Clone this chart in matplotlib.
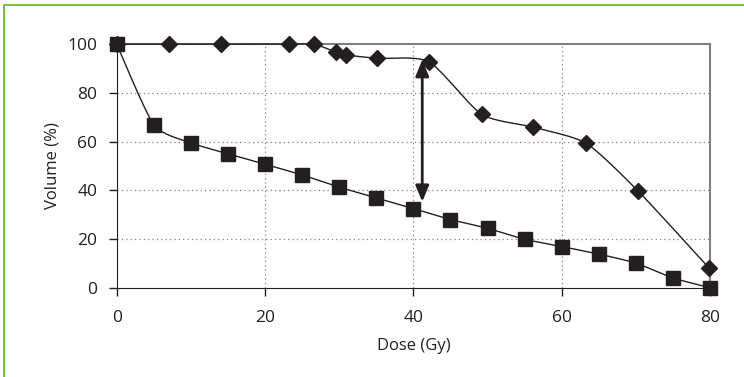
import numpy as np
import matplotlib
matplotlib.use("Agg")
import matplotlib.pyplot as plt
from matplotlib.lines import Line2D

plt.rcParams['font.family'] = ['Open Sans', 'DejaVu Sans']

# Data
square_dose = [0, 5, 10, 15, 20, 25, 30, 35, 40, 45, 50, 55, 60, 65, 70, 75, 80]
square_vol = [100, 67, 59.5, 55, 50.7, 46.3, 41.3, 36.9, 32.5, 28, 24.4, 19.9, 16.9, 13.8, 10.1, 4, 0]
diamond_dose = [0, 7, 14.1, 23.2, 26.6, 29.6, 30.9, 35.1, 42.1, 49.2, 56.2, 63.3, 70.3, 79.9]
diamond_vol = [100, 100, 100, 100, 100, 96.7, 95.6, 94.2, 92.8, 71.2, 65.9, 59.3, 39.7, 8]
arrow_dose = 41.2
arrow_low = 35.3
arrow_high = 93.5
xticks = [0, 20, 40, 60, 80]
yticks = [0, 20, 40, 60, 80, 100]


def smooth(x, y, n=20, t=0.5):
    """Catmull-Rom style smoothing (as in spreadsheet 'smoothed line')."""
    x = np.asarray(x, float); y = np.asarray(y, float)
    px = np.concatenate([[x[0]], x, [x[-1]]])
    py = np.concatenate([[y[0]], y, [y[-1]]])
    xs, ys = [], []
    for i in range(1, len(px) - 2):
        p0 = np.array([px[i - 1], py[i - 1]]); p1 = np.array([px[i], py[i]])
        p2 = np.array([px[i + 1], py[i + 1]]); p3 = np.array([px[i + 2], py[i + 2]])
        m1 = (p2 - p0) * t / 1.5
        m2 = (p3 - p1) * t / 1.5
        s = np.linspace(0, 1, n)
        h00 = 2 * s**3 - 3 * s**2 + 1
        h10 = s**3 - 2 * s**2 + s
        h01 = -2 * s**3 + 3 * s**2
        h11 = s**3 - s**2
        pts = np.outer(h00, p1) + np.outer(h10, m1) + np.outer(h01, p2) + np.outer(h11, m2)
        xs.extend(pts[:, 0]); ys.extend(pts[:, 1])
    return np.array(xs), np.array(ys)


fig = plt.figure(figsize=(7.44, 3.77), dpi=100)
ax = fig.add_axes([116.7 / 744, 1 - 287.7 / 377, (710 - 116.7) / 744, (287.7 - 44.2) / 377])

ax.set_xlim(0, 80)
ax.set_ylim(0, 100)

for xv in xticks[1:-1]:
    ax.axvline(xv, color='#808080', lw=0.9, ls=(0, (1, 2.5)), zorder=1)
for yv in yticks[1:-1]:
    ax.axhline(yv, color='#808080', lw=0.9, ls=(0, (1, 2.5)), zorder=1)

sx, sy = smooth(diamond_dose, diamond_vol)
ax.plot(sx, sy, color='#231f20', lw=1.0, zorder=3, clip_on=False)
ax.plot(diamond_dose, diamond_vol, ls='none', marker='D', ms=8.5, color='#231f20', zorder=4, clip_on=False)

sx, sy = smooth(square_dose, square_vol)
ax.plot(sx, sy, color='#231f20', lw=1.0, zorder=3, clip_on=False)
ax.plot(square_dose, square_vol, ls='none', marker='s', ms=9.5, color='#231f20', zorder=5, clip_on=False)

ax.annotate('', xy=(arrow_dose, arrow_high), xytext=(arrow_dose, arrow_low),
            arrowprops=dict(arrowstyle='<|-|>,head_length=0.6,head_width=0.25', color='#231f20', lw=2.0,
                            mutation_scale=16, shrinkA=0, shrinkB=0), zorder=6)

ax.set_xticks(xticks)
ax.set_yticks(yticks)
ax.tick_params(axis='both', direction='out', length=6, width=1.0, color='#231f20',
               labelsize=12.5, labelcolor='#231f20')
ax.tick_params(axis='y', pad=8)
ax.tick_params(axis='x', pad=10)

ax.spines['left'].set_color('#231f20')
ax.spines['bottom'].set_color('#231f20')
ax.spines['top'].set_color('#808080')
ax.spines['right'].set_color('#808080')
ax.spines['top'].set_linewidth(1.5)
ax.spines['right'].set_linewidth(1.5)

ax.set_xlabel('Dose (Gy)', fontsize=12, color='#231f20', labelpad=9)
ax.set_ylabel('Volume (%)', fontsize=12, color='#231f20', labelpad=5)

# green frame (top and left)
fig.add_artist(Line2D([4 / 744, 1], [1 - 5 / 377, 1 - 5 / 377], color='#7dc242', lw=1.5,
                      transform=fig.transFigure))
fig.add_artist(Line2D([4 / 744, 4 / 744], [0, 1 - 5 / 377], color='#7dc242', lw=1.5,
                      transform=fig.transFigure))

fig.savefig('out.png', dpi=100)
